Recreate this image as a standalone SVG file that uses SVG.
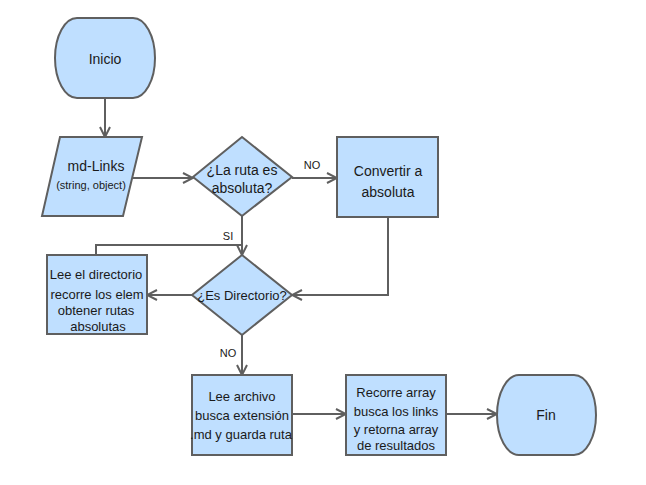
<svg xmlns="http://www.w3.org/2000/svg" width="646" height="485" viewBox="0 0 646 485">
<defs>
<style>
.shape{fill:#bfdfff;stroke:#5f5f5f;stroke-width:2}
.edge{fill:none;stroke:#5f5f5f;stroke-width:2}
text{font-family:"Liberation Sans",Arial,sans-serif;fill:#1a1a1a;text-anchor:middle}
.t14{font-size:14px}
.t13{font-size:13px}
.t11{font-size:11px}
.lbl{font-size:11px}
</style>
<marker id="arr" viewBox="0 0 12 12" refX="11" refY="6" markerWidth="12" markerHeight="12" markerUnits="userSpaceOnUse" orient="auto">
<path d="M1,1 L11,6 L1,11" fill="none" stroke="#5f5f5f" stroke-width="2"/>
</marker>
</defs>
<rect width="646" height="485" fill="#ffffff"/>
<g id="connectors">
<path class="edge" d="M105,99 L105,137" marker-end="url(#arr)"/>
<path class="edge" d="M133,178 L193,178" marker-end="url(#arr)"/>
<path class="edge" d="M292,178 L337,178" marker-end="url(#arr)"/>
<path class="edge" d="M388,217 L388,295 L292,295" marker-end="url(#arr)"/>
<path class="edge" d="M242,216 L242,255" marker-end="url(#arr)"/>
<path class="edge" d="M96,255 L96,245 L242,245"/>
<path class="edge" d="M192,295 L147,295" marker-end="url(#arr)"/>
<path class="edge" d="M242,335 L242,375" marker-end="url(#arr)"/>
<path class="edge" d="M292,414 L346,414" marker-end="url(#arr)"/>
<path class="edge" d="M446,414 L497,414" marker-end="url(#arr)"/>
<text class="lbl" x="312" y="169">NO</text>
<text class="lbl" x="228" y="240">SI</text>
<text class="lbl" x="228" y="357">NO</text>
</g>
<g id="inicio">
<path class="shape" d="M77,18 L133,18 A22,40 0 0 1 133,98 L77,98 A22,40 0 0 1 77,18 Z"/>
<text class="t14" x="105" y="64">Inicio</text>
</g>
<g id="mdlinks">
<path class="shape" d="M60,137 L142,137 L123,216 L42,216 Z"/>
<text class="t14" x="96" y="171">md-Links</text>
<text class="t11" x="91" y="189">(string, object)</text>
</g>
<g id="esabsoluta">
<path class="shape" d="M242,137 L292,177 L242,216 L193,177 Z"/>
<text class="t14" x="242" y="175">¿La ruta es</text>
<text class="t14" x="242" y="193">absoluta?</text>
</g>
<g id="convertir">
<rect class="shape" x="337" y="137" width="101" height="80"/>
<text class="t14" x="388" y="176">Convertir a</text>
<text class="t14" x="388" y="197">absoluta</text>
</g>
<g id="esdirectorio">
<path class="shape" d="M242,255 L292,295 L242,335 L192,295 Z"/>
<text class="t13" x="242" y="300">¿Es Directorio?</text>
</g>
<g id="leedirectorio">
<rect class="shape" x="47" y="255" width="100" height="79"/>
<text class="t13" x="96" y="279">Lee el directorio</text>
<text class="t13" x="97" y="299">recorre los elem</text>
<text class="t13" x="96" y="315">obtener rutas</text>
<text class="t13" x="98" y="331">absolutas</text>
</g>
<g id="leearchivo">
<rect class="shape" x="192" y="375" width="100" height="80"/>
<text class="t13" x="242" y="401">Lee archivo</text>
<text class="t13" x="242" y="420">busca extensión</text>
<text class="t13" x="241" y="439">.md y guarda ruta</text>
</g>
<g id="recorre">
<rect class="shape" x="346" y="375" width="100" height="80"/>
<text class="t13" x="396" y="397">Recorre array</text>
<text class="t13" x="396" y="416">busca los links</text>
<text class="t13" x="396" y="434">y retorna array</text>
<text class="t13" x="396" y="450">de resultados</text>
</g>
<g id="fin">
<path class="shape" d="M519,375 L574,375 A22,40 0 0 1 574,455 L519,455 A22,40 0 0 1 519,375 Z"/>
<text class="t14" x="546" y="420">Fin</text>
</g>
</svg>
